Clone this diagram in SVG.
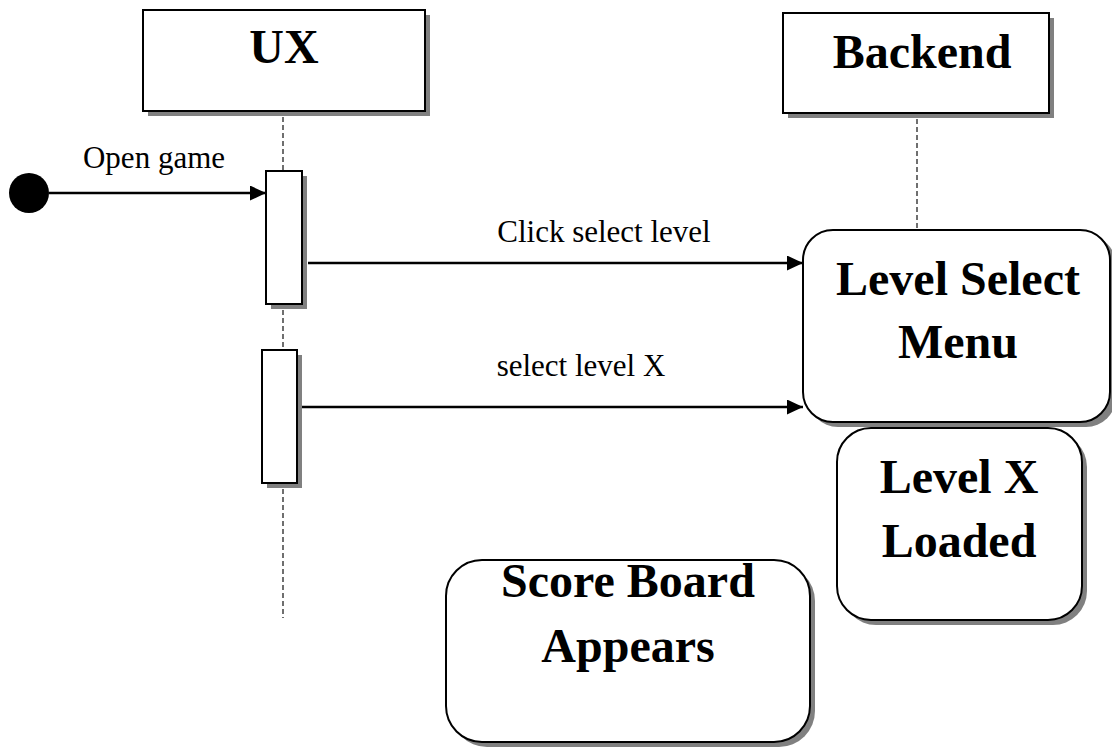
<svg xmlns="http://www.w3.org/2000/svg" width="1112" height="747" viewBox="0 0 1112 747">
  <style>
    .box { fill: #ffffff; stroke: #000000; stroke-width: 2; }
    .shadow { fill: #808080; stroke: none; }
    .life { stroke: #333333; stroke-width: 1.4; stroke-dasharray: 5 3; fill: none; }
    .msg { stroke: #000000; stroke-width: 2.4; fill: none; }
    .title { font-family: "Liberation Serif", "Times New Roman", serif; font-weight: bold; font-size: 48px; fill: #000000; text-anchor: middle; }
    .label { font-family: "Liberation Serif", "Times New Roman", serif; font-size: 31px; fill: #000000; text-anchor: middle; }
  </style>
  <defs>
    <marker id="arrow" markerWidth="16" markerHeight="15" refX="16" refY="7.5" orient="auto" markerUnits="userSpaceOnUse">
      <path d="M0,0 L16,7.5 L0,15 Z" fill="#000000"/>
    </marker>
  </defs>
  <rect width="1112" height="747" fill="#ffffff"/>

  <!-- lifelines -->
  <g id="lifelines">
    <line class="life" x1="283" y1="117" x2="283" y2="171"/>
    <line class="life" x1="283" y1="310" x2="283" y2="350"/>
    <line class="life" x1="283" y1="489" x2="283" y2="618"/>
    <line class="life" x1="917" y1="119" x2="917" y2="229"/>
  </g>

  <!-- actors -->
  <g id="ux">
    <rect class="shadow" x="148" y="15" width="282" height="101"/>
    <rect class="box" x="143" y="10" width="282" height="101"/>
    <text class="title" x="284" y="63">UX</text>
  </g>
  <g id="backend">
    <rect class="shadow" x="788" y="18" width="266" height="100"/>
    <rect class="box" x="783" y="13" width="266" height="100"/>
    <text class="title" x="922" y="68">Backend</text>
  </g>

  <!-- activations -->
  <g id="activation1">
    <rect class="shadow" x="271" y="176" width="36" height="133"/>
    <rect class="box" x="266" y="171" width="36" height="133" stroke-width="1.5"/>
  </g>
  <g id="activation2">
    <rect class="shadow" x="267" y="355" width="35" height="133"/>
    <rect class="box" x="262" y="350" width="35" height="133" stroke-width="1.5"/>
  </g>

  <!-- initial state -->
  <g id="start">
    <circle cx="29" cy="193" r="20" fill="#000000"/>
  </g>

  <!-- states -->
  <g id="level-select-menu">
    <rect class="shadow" x="808" y="235" width="308" height="192" rx="30"/>
    <rect class="box" x="803" y="230" width="307" height="192" rx="30"/>
    <text class="title" x="958" y="295">Level Select</text>
    <text class="title" x="958" y="358">Menu</text>
  </g>
  <g id="level-x-loaded">
    <rect class="shadow" x="842" y="433" width="245" height="192" rx="34"/>
    <rect class="box" x="837" y="428" width="245" height="192" rx="34"/>
    <text class="title" x="959" y="493">Level X</text>
    <text class="title" x="959" y="557">Loaded</text>
  </g>
  <g id="score-board">
    <rect class="shadow" x="451" y="565" width="364" height="182" rx="36"/>
    <rect class="box" x="446" y="560" width="364" height="182" rx="36"/>
    <text class="title" x="628" y="597">Score Board</text>
    <text class="title" x="628" y="662">Appears</text>
  </g>

  <!-- messages -->
  <g id="connectors">
    <line class="msg" x1="49" y1="193" x2="266" y2="193" marker-end="url(#arrow)"/>
    <text class="label" x="154" y="168">Open game</text>
    <line class="msg" x1="308" y1="263" x2="803" y2="263" marker-end="url(#arrow)"/>
    <text class="label" x="604" y="242">Click select level</text>
    <line class="msg" x1="302" y1="407" x2="803" y2="407" marker-end="url(#arrow)"/>
    <text class="label" x="581" y="376">select level X</text>
  </g>
</svg>
